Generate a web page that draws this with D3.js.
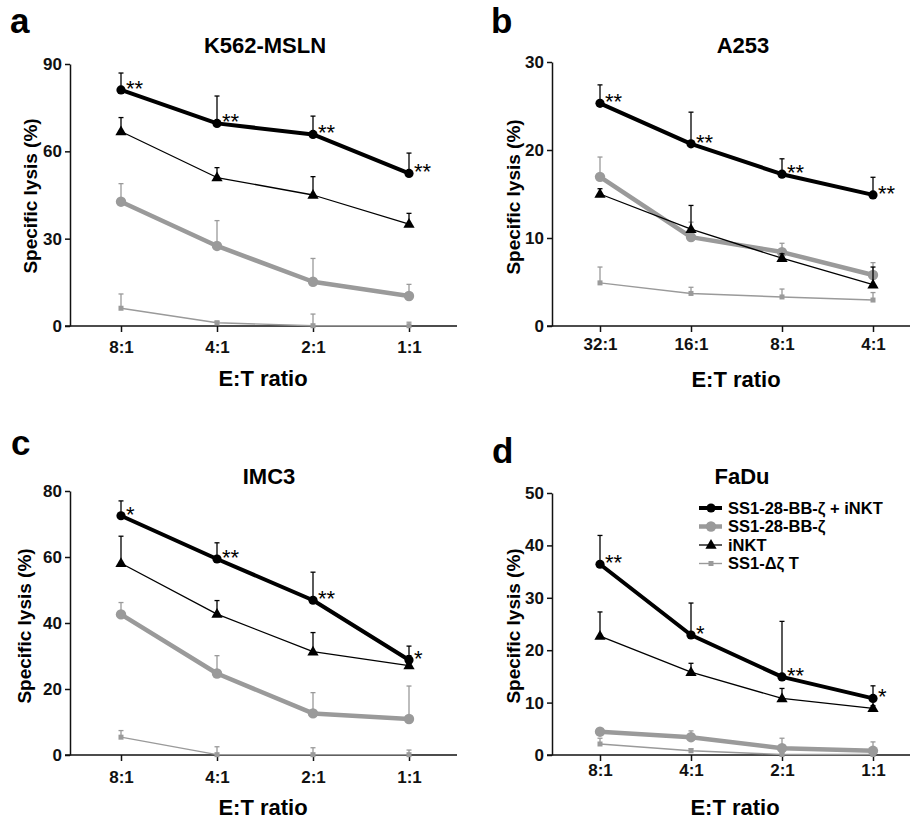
<!DOCTYPE html>
<html>
<head>
<meta charset="utf-8">
<script src="https://cdn.jsdelivr.net/npm/d3@7"></script>
<style>
  body { margin: 0; background: #fff; }
  svg { display: block; font-family: "Liberation Sans", Arial, sans-serif; }
</style>
</head>
<body>
<svg id="chart" width="910" height="821"></svg>
<script>
// E:T ratios
const ratiosLow = ["8:1", "4:1", "2:1", "1:1"];
const ratiosHigh = ["32:1", "16:1", "8:1", "4:1"];

// K562-MSLN
const k562Combo = [81.1, 69.6, 65.8, 52.4];
const k562ComboSd = [5.8, 9.4, 6.3, 7.0];
const k562Car = [42.7, 27.5, 15.2, 10.3];
const k562CarSd = [6.2, 8.7, 8.0, 4.0];
const k562Inkt = [66.8, 51.0, 45.0, 35.0];
const k562InktSd = [4.8, 3.4, 6.3, 3.7];
const k562Dz = [6.1, 1.1, 0.1, 0.1];
const k562DzSd = [4.9, 0.5, 4.0, 1.2];
const k562Stars = ["**", "**", "**", "**"];

// A253
const a253Combo = [25.3, 20.7, 17.25, 14.9];
const a253ComboSd = [2.1, 3.6, 1.75, 2.0];
const a253Car = [16.95, 10.1, 8.4, 5.8];
const a253CarSd = [2.25, 1.7, 1.0, 1.4];
const a253Inkt = [15.0, 11.0, 7.7, 4.7];
const a253InktSd = [0.6, 2.7, 0.5, 2.0];
const a253Dz = [4.9, 3.7, 3.3, 2.95];
const a253DzSd = [1.8, 0.7, 0.9, 0.85];
const a253Stars = ["**", "**", "**", "**"];

// IMC3
const imc3Combo = [72.5, 59.4, 46.9, 28.8];
const imc3ComboSd = [4.5, 4.9, 8.5, 4.2];
const imc3Car = [42.6, 24.7, 12.6, 10.9];
const imc3CarSd = [3.6, 5.4, 6.3, 10.0];
const imc3Inkt = [58.1, 42.7, 31.3, 27.1];
const imc3InktSd = [8.2, 4.1, 5.8, 3.0];
const imc3Dz = [5.4, 0.1, 0.1, 0.1];
const imc3DzSd = [2.0, 2.4, 2.1, 1.4];
const imc3Stars = ["*", "**", "**", "*"];

// FaDu
const faduCombo = [36.4, 22.9, 14.9, 10.8];
const faduComboSd = [5.5, 6.1, 10.6, 2.4];
const faduCar = [4.45, 3.4, 1.3, 0.8];
const faduCarSd = [0.5, 1.2, 1.9, 1.7];
const faduInkt = [22.7, 15.8, 10.8, 8.9];
const faduInktSd = [4.6, 1.7, 1.9, 0.5];
const faduDz = [2.1, 0.8, 0.1, 0.1];
const faduDzSd = [1.1, 0.4, 0.3, 0.3];
const faduStars = ["**", "*", "**", "*"];

const seriesNames = ["SS1-28-BB-ζ + iNKT", "SS1-28-BB-ζ", "iNKT", "SS1-Δζ T"];

// series styles, drawn back to front: dz, car, inkt, combo
const GRAY = "#9a9a9a";
const styles = {
    combo: {color: "#000", width: 4, marker: "circle", size: 4.6},
    car: {color: GRAY, width: 4.5, marker: "circle", size: 5.2},
    inkt: {color: "#000", width: 1.3, marker: "triangle", size: 55},
    dz: {color: GRAY, width: 1.4, marker: "square", size: 5}
};

const panels = [
    {letter: "a", letterX: 10, letterY: 33, title: "K562-MSLN", titleX: 265, titleY: 53,
     ratios: ratiosLow, yMax: 90, yTicks: [0, 30, 60, 90],
     left: 70, right: 457, top: 64, bottom: 326, firstX: 121, lastX: 409,
     ylabX: 30, ylabY: 196, xlabX: 263, xlabY: 386, tickPad: 9,
     combo: [k562Combo, k562ComboSd], car: [k562Car, k562CarSd],
     inkt: [k562Inkt, k562InktSd], dz: [k562Dz, k562DzSd], stars: k562Stars},
    {letter: "b", letterX: 491, letterY: 33, title: "A253", titleX: 743, titleY: 53,
     ratios: ratiosHigh, yMax: 30, yTicks: [0, 10, 20, 30],
     left: 552, right: 910, top: 62, bottom: 326, firstX: 600, lastX: 873,
     ylabX: 513, ylabY: 197, xlabX: 736, xlabY: 387, tickPad: 6,
     combo: [a253Combo, a253ComboSd], car: [a253Car, a253CarSd],
     inkt: [a253Inkt, a253InktSd], dz: [a253Dz, a253DzSd], stars: a253Stars},
    {letter: "c", letterX: 11, letterY: 455, title: "IMC3", titleX: 269, titleY: 484,
     ratios: ratiosLow, yMax: 80, yTicks: [0, 20, 40, 60, 80],
     left: 70, right: 457, top: 491, bottom: 755, firstX: 121, lastX: 409,
     ylabX: 24, ylabY: 626, xlabX: 263, xlabY: 815, tickPad: 10,
     combo: [imc3Combo, imc3ComboSd], car: [imc3Car, imc3CarSd],
     inkt: [imc3Inkt, imc3InktSd], dz: [imc3Dz, imc3DzSd], stars: imc3Stars},
    {letter: "d", letterX: 492, letterY: 463, title: "FaDu", titleX: 742, titleY: 484,
     ratios: ratiosLow, yMax: 50, yTicks: [0, 10, 20, 30, 40, 50],
     left: 552, right: 910, top: 493, bottom: 755, firstX: 600, lastX: 873,
     ylabX: 513, ylabY: 626, xlabX: 735, xlabY: 815, tickPad: 3,
     combo: [faduCombo, faduComboSd], car: [faduCar, faduCarSd],
     inkt: [faduInkt, faduInktSd], dz: [faduDz, faduDzSd], stars: faduStars,
     legend: true}
];

const svg = d3.select("#chart");

function drawMarker(g, type, st, cx, cy) {
    if (type === "circle") {
        g.append("circle").attr("cx", cx).attr("cy", cy).attr("r", st.size).attr("fill", st.color);
    } else if (type === "square") {
        g.append("rect").attr("x", cx - st.size / 2).attr("y", cy - st.size / 2)
            .attr("width", st.size).attr("height", st.size).attr("fill", st.color);
    } else {
        g.append("path").attr("d", d3.symbol(d3.symbolTriangle, st.size)())
            .attr("transform", `translate(${cx},${cy + 0.5})`).attr("fill", st.color);
    }
}

panels.forEach(p => {
    let g = svg.append("g");

    let x = d3.scalePoint().domain(p.ratios).range([p.firstX, p.lastX]);
    let y = d3.scaleLinear().domain([0, p.yMax]).range([p.bottom, p.top]);

    // panel letter + title
    g.append("text").attr("x", p.letterX).attr("y", p.letterY)
        .attr("font-size", 35).attr("font-weight", "bold").text(p.letter);
    g.append("text").attr("x", p.titleX).attr("y", p.titleY)
        .attr("text-anchor", "middle").attr("font-size", 22).attr("font-weight", "bold")
        .text(p.title);

    // axes
    let xAxis = g.append("g").attr("transform", `translate(0,${p.bottom})`)
        .call(d3.axisBottom(x).tickSize(6).tickSizeOuter(0).tickPadding(p.tickPad));
    xAxis.select(".domain").attr("d", `M${p.left - 5},0H${p.right}`);
    let yAxis = g.append("g").attr("transform", `translate(${p.left},0)`)
        .call(d3.axisLeft(y).tickValues(p.yTicks).tickSize(5).tickSizeOuter(0).tickPadding(3));
    [xAxis, yAxis].forEach(a => {
        a.selectAll("path, line").attr("stroke", "#111").attr("stroke-width", 1.5);
        a.selectAll("text").attr("font-size", 17).attr("font-weight", "bold")
            .attr("font-family", "Liberation Sans, Arial, sans-serif").attr("fill", "#111");
    });

    // axis titles
    g.append("text").attr("x", p.xlabX).attr("y", p.xlabY)
        .attr("text-anchor", "middle").attr("font-size", 22).attr("font-weight", "bold")
        .text("E:T ratio");
    g.append("text").attr("transform", `translate(${p.ylabX},${p.ylabY}) rotate(-90)`)
        .attr("text-anchor", "middle").attr("dy", "0.35em")
        .attr("font-size", 19).attr("font-weight", "bold")
        .text("Specific lysis (%)");

    // series
    ["dz", "car", "inkt", "combo"].forEach(key => {
        let st = styles[key];
        let vals = p[key][0], sds = p[key][1];
        let pts = p.ratios.map((r, i) => ({r: r, v: vals[i], sd: sds[i]}));
        let sg = g.append("g");

        // error bars (upper only)
        pts.forEach(d => {
            let cx = x(d.r), y0 = y(d.v), y1 = y(d.v + d.sd);
            sg.append("line").attr("x1", cx).attr("x2", cx).attr("y1", y0).attr("y2", y1)
                .attr("stroke", st.color).attr("stroke-width", 1.3);
            sg.append("line").attr("x1", cx - 2.5).attr("x2", cx + 2.5).attr("y1", y1).attr("y2", y1)
                .attr("stroke", st.color).attr("stroke-width", 1.3);
        });

        let line = d3.line().x(d => x(d.r)).y(d => y(d.v));
        sg.append("path").datum(pts).attr("d", line)
            .attr("fill", "none").attr("stroke", st.color).attr("stroke-width", st.width)
            .attr("stroke-linejoin", "round");

        pts.forEach(d => drawMarker(sg, st.marker, st, x(d.r), y(d.v)));
    });

    // significance stars
    p.ratios.forEach((r, i) => {
        g.append("text").attr("x", x(r) + 5).attr("y", y(p.combo[0][i]) + 6)
            .attr("font-size", 22).text(p.stars[i]);
    });

    // legend (panel d only)
    if (p.legend) {
        let rowsY = [508, 526.5, 545, 563.5];
        ["combo", "car", "inkt", "dz"].forEach((key, i) => {
            let st = styles[key];
            let lg = g.append("g");
            lg.append("line").attr("x1", 699).attr("x2", 722).attr("y1", rowsY[i]).attr("y2", rowsY[i])
                .attr("stroke", st.color).attr("stroke-width", st.width);
            drawMarker(lg, st.marker, st, 711, rowsY[i]);
            lg.append("text").attr("x", 728).attr("y", rowsY[i]).attr("dy", "0.36em")
                .attr("font-size", 16.5).attr("font-weight", "bold").text(seriesNames[i]);
        });
    }
});
</script>
</body>
</html>
